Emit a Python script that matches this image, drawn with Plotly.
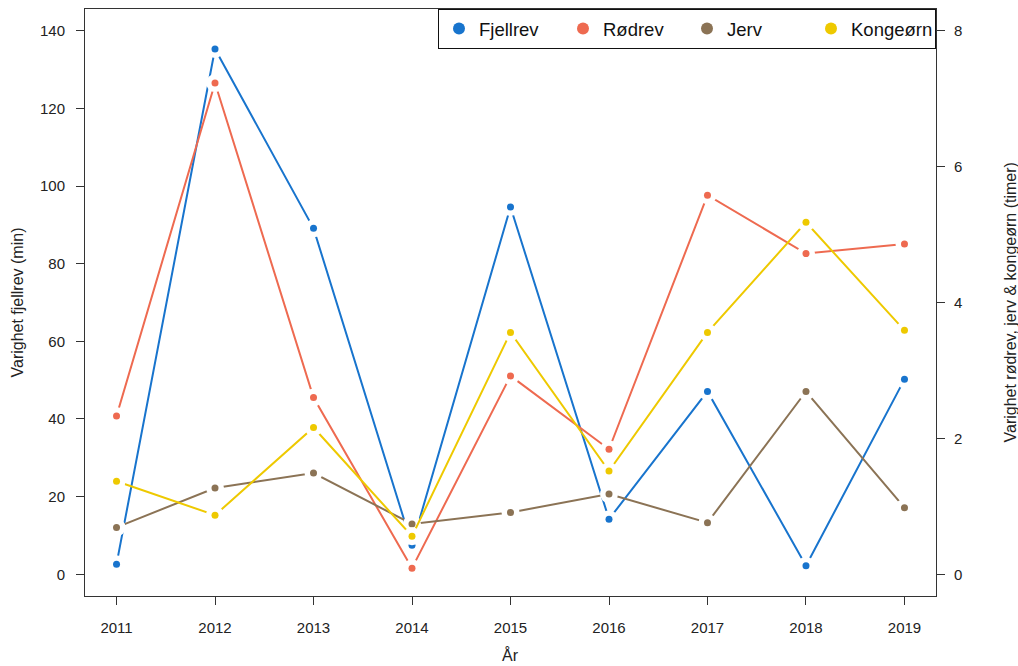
import plotly.graph_objects as go

years = [2011, 2012, 2013, 2014, 2015, 2016, 2017, 2018, 2019]
fjellrev_min = [2.6, 135.3, 89.1, 7.5, 94.6, 14.2, 47.1, 2.2, 50.2]
rodrev_t = [2.33, 7.23, 2.60, 0.09, 2.92, 1.84, 5.58, 4.72, 4.86]
jerv_t = [0.69, 1.27, 1.49, 0.74, 0.91, 1.18, 0.76, 2.69, 0.98]
kongeorn_t = [1.37, 0.87, 2.16, 0.56, 3.56, 1.52, 3.56, 5.18, 3.59]

series = [
    ("Fjellrev", fjellrev_min, "#1874CD", "y"),
    ("Rødrev", rodrev_t, "#EE6A50", "y2"),
    ("Jerv", jerv_t, "#8B7355", "y2"),
    ("Kongeørn", kongeorn_t, "#EEC900", "y2"),
]

FONT = "Liberation Sans, Arial, sans-serif"
fig = go.Figure()

for name, vals, col, ax in series:
    fig.add_trace(go.Scatter(x=years, y=vals, yaxis=ax, mode="lines",
                             line=dict(color=col, width=2), showlegend=False,
                             hoverinfo="skip"))
    fig.add_trace(go.Scatter(x=years, y=vals, yaxis=ax, mode="markers",
                             marker=dict(color="white", size=18), showlegend=False,
                             hoverinfo="skip"))
    fig.add_trace(go.Scatter(x=years, y=vals, yaxis=ax, mode="markers",
                             marker=dict(color=col, size=7), showlegend=False,
                             name=name))

for name, vals, col, ax in series:
    fig.add_trace(go.Scatter(x=[None], y=[None], mode="markers", name=name,
                             marker=dict(color=col, size=7), showlegend=True))

axis_common = dict(
    showgrid=False, zeroline=False, ticks="outside", ticklen=8, tickwidth=1,
    automargin=False,
    tickcolor="#333333", tickfont=dict(family=FONT, size=15, color="#222222"),
)

fig.update_layout(
    width=1018, height=666,
    margin=dict(l=85, r=82, t=9, b=70),
    plot_bgcolor="white", paper_bgcolor="white",
    font=dict(family=FONT, size=15, color="#222222"),
    xaxis=dict(
        range=[2010.68, 2019.32], tickvals=years, ticktext=[str(y) for y in years],
        showline=True, mirror=True, linecolor="#333333", linewidth=1,
        ticklabelstandoff=10,
        **axis_common,
    ),
    yaxis=dict(
        range=[-5.6, 145.6], tickvals=[0, 20, 40, 60, 80, 100, 120, 140],
        showline=True, mirror=True, linecolor="#333333", linewidth=1,
        ticklabelstandoff=8,
        **axis_common,
    ),
    yaxis2=dict(
        range=[-0.32, 8.32], tickvals=[0, 2, 4, 6, 8], overlaying="y", side="right",
        showline=False,
        ticklabelstandoff=6,
        **axis_common,
    ),
    legend=dict(
        orientation="h", x=1, xanchor="right", y=1, yanchor="top",
        bordercolor="#111111", borderwidth=1, bgcolor="white",
        font=dict(family=FONT, size=18.5, color="#111111"),
        entrywidth=79, entrywidthmode="pixels", itemsizing="constant",
    ),
    annotations=[
        dict(text="År", xref="paper", yref="paper", x=0.5, y=0, yshift=-59,
             xanchor="center", yanchor="middle", showarrow=False,
             font=dict(family=FONT, size=16, color="#222222")),
        dict(text="Varighet fjellrev (min)", xref="paper", yref="paper", x=0, y=0.5,
             xshift=-68, textangle=-90, xanchor="center", yanchor="middle",
             showarrow=False, font=dict(family=FONT, size=16, color="#222222")),
        dict(text="Varighet rødrev, jerv & kongeørn (timer)", xref="paper", yref="paper",
             x=1, y=0.5, xshift=74, textangle=-90, xanchor="center", yanchor="middle",
             showarrow=False, font=dict(family=FONT, size=16, color="#222222")),
    ],
)

fig.write_html("out.html")
